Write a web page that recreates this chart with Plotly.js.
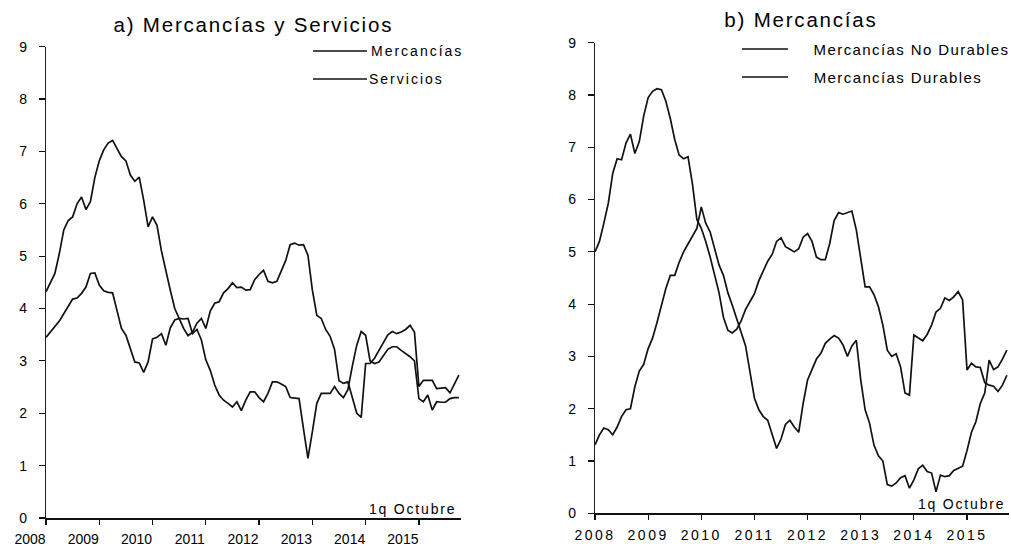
<!DOCTYPE html>
<html>
<head>
<meta charset="utf-8">
<script src="https://cdn.plot.ly/plotly-3.0.1.min.js"></script>
<style>
  html, body { margin: 0; padding: 0; background: #fff; }
  #chart { width: 1011px; height: 550px; }
  .x2tick text { letter-spacing: 2.5px; }
  g.annotation[data-index="0"] text { letter-spacing: 1.8px; }
  g.annotation[data-index="1"] text { letter-spacing: 1.8px; }
  g.annotation[data-index="2"] text, g.annotation[data-index="3"] text { letter-spacing: 2px; }
  g.annotation[data-index="4"] text, g.annotation[data-index="5"] text { letter-spacing: 1.4px; }
  g.annotation[data-index="6"] text, g.annotation[data-index="7"] text { letter-spacing: 1.8px; }
</style>
</head>
<body>
<div id="chart"></div>
<script>
// ---- Data (monthly, Jan 2008 – Oct 2015, annual % change) ----
const startYear = 2008;
const nMonths = 94;
const yearTicks = [2008, 2009, 2010, 2011, 2012, 2013, 2014, 2015];
const yearLabels = ['2008', '2009', '2010', '2011', '2012', '2013', '2014', '2015'];
const yTicks = [0, 1, 2, 3, 4, 5, 6, 7, 8, 9];

const mercancias = [
  4.32, 4.50, 4.67, 5.05, 5.50, 5.68, 5.75, 6.00, 6.13, 5.89,
  6.04, 6.50, 6.82, 7.03, 7.16, 7.21, 7.06, 6.90, 6.82, 6.55,
  6.43, 6.51, 6.07, 5.56, 5.75, 5.59, 5.10, 4.70, 4.35, 4.00,
  3.80, 3.62, 3.48, 3.55, 3.72, 3.81, 3.62, 3.95, 4.10, 4.13,
  4.30, 4.38, 4.49, 4.40, 4.41, 4.35, 4.36, 4.55, 4.65, 4.73,
  4.52, 4.49, 4.52, 4.73, 4.92, 5.22, 5.25, 5.21, 5.22, 5.02,
  4.35, 3.87, 3.81, 3.60, 3.47, 3.22, 2.62, 2.57, 2.60, 2.30,
  2.00, 1.92, 2.95, 2.95, 3.05, 3.20, 3.35, 3.50, 3.56, 3.52,
  3.55, 3.60, 3.68, 3.55, 2.51, 2.63, 2.63, 2.63, 2.47, 2.48,
  2.49, 2.39, 2.56, 2.73
];
const servicios = [
  3.45, 3.55, 3.64, 3.76, 3.90, 4.05, 4.18, 4.20, 4.29, 4.41,
  4.67, 4.68, 4.45, 4.34, 4.31, 4.30, 3.95, 3.62, 3.49, 3.25,
  2.98, 2.96, 2.78, 2.98, 3.42, 3.45, 3.52, 3.30, 3.63, 3.78,
  3.81, 3.80, 3.81, 3.52, 3.60, 3.40, 3.02, 2.82, 2.54, 2.35,
  2.25, 2.19, 2.12, 2.22, 2.05, 2.25, 2.41, 2.41, 2.30, 2.22,
  2.38, 2.60, 2.60, 2.56, 2.51, 2.30, 2.29, 2.28, 1.70, 1.14,
  1.65, 2.19, 2.38, 2.38, 2.38, 2.51, 2.38, 2.30, 2.45, 2.90,
  3.30, 3.56, 3.49, 3.00, 2.95, 2.98, 3.10, 3.22, 3.27, 3.27,
  3.20, 3.14, 3.08, 3.00, 2.28, 2.22, 2.35, 2.06, 2.22, 2.21,
  2.21, 2.28, 2.30, 2.30
];
const noDurables = [
  5.00, 5.20, 5.55, 5.93, 6.50, 6.78, 6.76, 7.08, 7.25, 6.88,
  7.11, 7.60, 7.95, 8.07, 8.12, 8.10, 7.88, 7.55, 7.15, 6.85,
  6.78, 6.82, 6.30, 5.62, 5.45, 5.20, 4.90, 4.55, 4.22, 3.75,
  3.50, 3.45, 3.52, 3.68, 3.90, 4.05, 4.20, 4.45, 4.65, 4.82,
  4.95, 5.20, 5.27, 5.10, 5.05, 5.00, 5.06, 5.28, 5.35, 5.20,
  4.90, 4.85, 4.85, 5.16, 5.60, 5.75, 5.72, 5.75, 5.78, 5.42,
  4.84, 4.33, 4.33, 4.18, 3.95, 3.60, 3.12, 3.00, 3.05, 2.80,
  2.30, 2.26, 3.41, 3.35, 3.30, 3.42, 3.60, 3.85, 3.92, 4.12,
  4.07, 4.14, 4.24, 4.08, 2.74, 2.87, 2.80, 2.79, 2.50, 2.45,
  2.43, 2.33, 2.45, 2.64
];
const durables = [
  1.31, 1.50, 1.63, 1.60, 1.50, 1.65, 1.85, 1.98, 2.00, 2.42,
  2.72, 2.85, 3.15, 3.35, 3.65, 4.00, 4.30, 4.55, 4.55, 4.80,
  5.00, 5.15, 5.30, 5.45, 5.86, 5.55, 5.38, 5.05, 4.75, 4.55,
  4.22, 3.98, 3.72, 3.42, 3.20, 2.70, 2.20, 1.98, 1.85, 1.78,
  1.50, 1.24, 1.42, 1.70, 1.78, 1.65, 1.55, 2.10, 2.55, 2.75,
  2.95, 3.06, 3.25, 3.33, 3.40, 3.35, 3.22, 3.00, 3.20, 3.31,
  2.55, 1.98, 1.72, 1.30, 1.10, 1.00, 0.55, 0.52, 0.58, 0.68,
  0.72, 0.48, 0.64, 0.85, 0.92, 0.80, 0.77, 0.41, 0.73, 0.70,
  0.72, 0.82, 0.86, 0.90, 1.20, 1.55, 1.75, 2.10, 2.30, 2.93,
  2.75, 2.80, 2.95, 3.12
];

// time positions (fractional years), one per month
const months = [];
for (let i = 0; i < nMonths; i++) months.push(startYear + i / 12);

const W = 1011, H = 550;
const FONT = 'Liberation Sans, Arial, sans-serif';
const lineStyle = { color: '#111', width: 1.7 };

const traces = [
  { x: months, y: mercancias, name: 'Mercancías', type: 'scatter', mode: 'lines', line: lineStyle, xaxis: 'x', yaxis: 'y' },
  { x: months, y: servicios, name: 'Servicios', type: 'scatter', mode: 'lines', line: lineStyle, xaxis: 'x', yaxis: 'y' },
  { x: months, y: noDurables, name: 'Mercancías No Durables', type: 'scatter', mode: 'lines', line: lineStyle, xaxis: 'x2', yaxis: 'y2' },
  { x: months, y: durables, name: 'Mercancías Durables', type: 'scatter', mode: 'lines', line: lineStyle, xaxis: 'x2', yaxis: 'y2' }
];

const px = v => v / W;
const py = v => 1 - v / H;

const xCommon = {
  range: [2008, 2015.79], tickmode: 'array', tickvals: yearTicks, ticktext: yearLabels,
  ticks: 'outside', ticklen: 5, tickwidth: 1.2, tickcolor: '#111',
  showline: true, linecolor: '#111', linewidth: 1.5, showgrid: false, zeroline: false,
  tickfont: { family: FONT, size: 14, color: '#000' }, automargin: false, fixedrange: true
};
const yCommon = {
  range: [0, 9], tickmode: 'array', tickvals: yTicks,
  ticks: 'outside', ticklen: 6, tickwidth: 1.2, tickcolor: '#111',
  showline: true, linecolor: '#222', linewidth: 1.2, showgrid: false, zeroline: false,
  tickfont: { family: FONT, size: 14, color: '#000' }, automargin: false, fixedrange: true,
  ticklabelstandoff: 9
};

const layout = {
  width: W, height: H,
  margin: { l: 0, r: 0, t: 0, b: 0 },
  paper_bgcolor: '#fff', plot_bgcolor: '#fff',
  showlegend: false,
  font: { family: FONT, color: '#111' },
  xaxis: Object.assign({}, xCommon, { domain: [px(46), px(461)], anchor: 'y', ticklabelshift: -16, ticklabelstandoff: 3 }),
  yaxis: Object.assign({}, yCommon, { domain: [py(518), py(46.7)], anchor: 'x' }),
  xaxis2: Object.assign({}, xCommon, { domain: [px(595), px(1009)], anchor: 'y2', ticklabelstandoff: 3 }),
  yaxis2: Object.assign({}, yCommon, { domain: [py(513.3), py(42.7)], anchor: 'x2' }),
  annotations: [
    { text: 'a) Mercancías y Servicios', xref: 'paper', yref: 'paper', x: px(253), y: py(25), xanchor: 'center', yanchor: 'middle', showarrow: false, font: { family: FONT, size: 20.5, color: '#000' } },
    { text: 'b) Mercancías', xref: 'paper', yref: 'paper', x: px(801), y: py(19), xanchor: 'center', yanchor: 'middle', showarrow: false, font: { family: FONT, size: 20.5, color: '#000' } },
    { text: 'Mercancías', xref: 'paper', yref: 'paper', x: px(416.5), y: py(51), xanchor: 'center', yanchor: 'middle', showarrow: false, font: { family: FONT, size: 14, color: '#000' } },
    { text: 'Servicios', xref: 'paper', yref: 'paper', x: px(406.5), y: py(79), xanchor: 'center', yanchor: 'middle', showarrow: false, font: { family: FONT, size: 14, color: '#000' } },
    { text: 'Mercancías No Durables', xref: 'paper', yref: 'paper', x: px(911), y: py(49), xanchor: 'center', yanchor: 'middle', showarrow: false, font: { family: FONT, size: 15, color: '#000' } },
    { text: 'Mercancías Durables', xref: 'paper', yref: 'paper', x: px(898), y: py(77), xanchor: 'center', yanchor: 'middle', showarrow: false, font: { family: FONT, size: 15, color: '#000' } },
    { text: '1q Octubre', xref: 'paper', yref: 'paper', x: px(412.5), y: py(509), xanchor: 'center', yanchor: 'middle', showarrow: false, font: { family: FONT, size: 14, color: '#000' } },
    { text: '1q Octubre', xref: 'paper', yref: 'paper', x: px(961.5), y: py(504), xanchor: 'center', yanchor: 'middle', showarrow: false, font: { family: FONT, size: 14, color: '#000' } }
  ],
  shapes: [
    { type: 'line', xref: 'paper', yref: 'paper', x0: px(313), x1: px(367), y0: py(51), y1: py(51), line: { color: '#111', width: 1.5 } },
    { type: 'line', xref: 'paper', yref: 'paper', x0: px(313), x1: px(367), y0: py(79), y1: py(79), line: { color: '#111', width: 1.5 } },
    { type: 'line', xref: 'paper', yref: 'paper', x0: px(742), x1: px(788), y0: py(49), y1: py(49), line: { color: '#111', width: 1.5 } },
    { type: 'line', xref: 'paper', yref: 'paper', x0: px(742), x1: px(788), y0: py(77), y1: py(77), line: { color: '#111', width: 1.5 } }
  ]
};

Plotly.newPlot('chart', traces, layout, { staticPlot: true, displayModeBar: false });
</script>
</body>
</html>
